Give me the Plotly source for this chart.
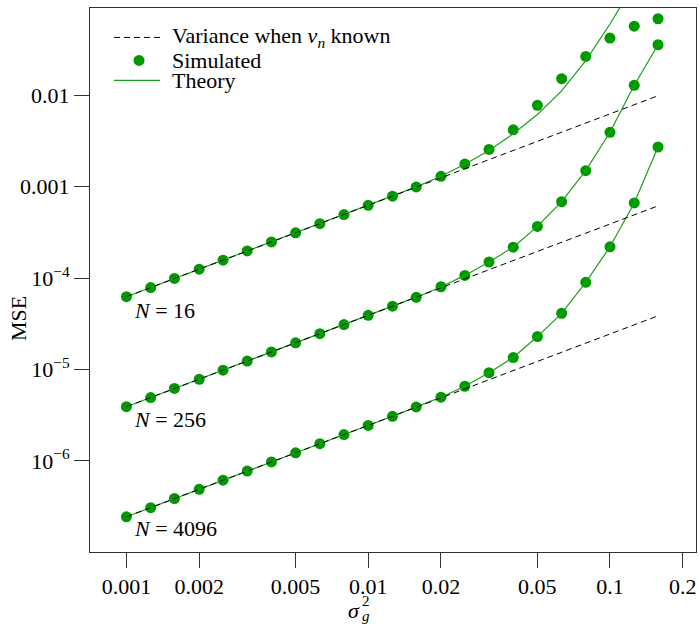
import math
import plotly.graph_objects as go

# grid of sigma_g^2 values
sigma2 = [0.001, 0.00126, 0.00158, 0.002, 0.00251, 0.00316, 0.00398, 0.00501,
          0.00631, 0.00794, 0.01, 0.0126, 0.0158, 0.02, 0.0251, 0.0316, 0.0398,
          0.0501, 0.0631, 0.0794, 0.1, 0.126, 0.158]

# Variance when v_n known (straight lines, endpoints)
var_x = [0.001, 0.158]
var_16 = [6.25e-5, 9.9e-3]
var_256 = [3.91e-6, 6.17e-4]
var_4096 = [2.44e-7, 3.86e-5]

# Simulated MSE
sim_16 = [6.25e-5, 7.87e-5, 9.9e-5, 1.25e-4, 1.57e-4, 1.98e-4, 2.49e-4, 3.13e-4,
          3.94e-4, 4.96e-4, 6.25e-4, 7.87e-4, 9.95e-4, 1.30e-3, 1.77e-3, 2.56e-3,
          4.2e-3, 7.78e-3, 1.52e-2, 2.67e-2, 4.23e-2, 5.71e-2, 6.89e-2]
sim_256 = [3.91e-6, 4.92e-6, 6.19e-6, 7.81e-6, 9.81e-6, 1.235e-5, 1.555e-5, 1.957e-5,
           2.465e-5, 3.10e-5, 3.91e-5, 4.92e-5, 6.15e-5, 8.04e-5, 1.07e-4, 1.50e-4,
           2.18e-4, 3.68e-4, 6.86e-4, 1.50e-3, 3.94e-3, 1.29e-2, 3.58e-2]
sim_4096 = [2.44e-7, 3.07e-7, 3.87e-7, 4.88e-7, 6.13e-7, 7.72e-7, 9.72e-7, 1.223e-6,
            1.54e-6, 1.94e-6, 2.44e-6, 3.07e-6, 3.89e-6, 4.97e-6, 6.55e-6, 9.22e-6,
            1.35e-5, 2.29e-5, 4.11e-5, 8.98e-5, 2.2e-4, 6.64e-4, 2.72e-3]

# Theory curves
th_16 = [6.25e-5, 7.87e-5, 9.9e-5, 1.25e-4, 1.57e-4, 1.98e-4, 2.49e-4, 3.13e-4,
         3.94e-4, 4.96e-4, 6.26e-4, 7.9e-4, 9.97e-4, 1.30e-3, 1.76e-3, 2.49e-3,
         3.8e-3, 6.17e-3, 1.12e-2, 2.4e-2, 6.03e-2, 0.166, 0.5]
th_256 = [3.91e-6, 4.92e-6, 6.19e-6, 7.81e-6, 9.81e-6, 1.235e-5, 1.555e-5, 1.957e-5,
          2.465e-5, 3.10e-5, 3.91e-5, 4.93e-5, 6.18e-5, 8.0e-5, 1.07e-4, 1.50e-4,
          2.18e-4, 3.68e-4, 6.86e-4, 1.50e-3, 3.94e-3, 1.29e-2, 3.58e-2]
th_4096 = [2.44e-7, 3.07e-7, 3.87e-7, 4.88e-7, 6.13e-7, 7.72e-7, 9.72e-7, 1.223e-6,
           1.54e-6, 1.94e-6, 2.44e-6, 3.07e-6, 3.89e-6, 4.97e-6, 6.55e-6, 9.22e-6,
           1.35e-5, 2.29e-5, 4.11e-5, 8.98e-5, 2.2e-4, 6.64e-4, 2.72e-3]

n_labels = ["<i>N</i> = 16", "<i>N</i> = 256", "<i>N</i> = 4096"]
n_label_x = 0.00105
n_label_y = [4.47e-5, 2.81e-6, 1.81e-7]

legend_labels = ["Variance when <i>v</i><sub><i>n</i></sub> known", "Simulated", "Theory"]

x_tickvals = [0.001, 0.002, 0.005, 0.01, 0.02, 0.05, 0.1, 0.2]
x_ticktext = ["0.001", "0.002", "0.005", "0.01", "0.02", "0.05", "0.1", "0.2"]
y_tickvals = [0.01, 0.001, 1e-4, 1e-5, 1e-6]
y_ticktext = ["0.01", "0.001", "10<sup>\u22124</sup>", "10<sup>\u22125</sup>", "10<sup>\u22126</sup>"]

GREEN_PT = "#009a00"
GREEN_LN = "#1aa01a"
FONT = "Liberation Serif"
FS = 22

fig = go.Figure()

for sim in (sim_16, sim_256, sim_4096):
    fig.add_trace(go.Scatter(x=sigma2, y=sim, mode="markers", showlegend=False,
                             marker=dict(color=GREEN_PT, size=11)))
for th in (th_16, th_256, th_4096):
    fig.add_trace(go.Scatter(x=sigma2, y=th, mode="lines", showlegend=False,
                             line=dict(color=GREEN_LN, width=1.2)))
for v in (var_16, var_256, var_4096):
    fig.add_trace(go.Scatter(x=var_x, y=v, mode="lines", showlegend=False,
                             line=dict(color="black", width=1, dash="6px,4px")))

for lab, yy in zip(n_labels, n_label_y):
    fig.add_annotation(x=math.log10(n_label_x), y=math.log10(yy), xref="x", yref="y",
                       text=lab, showarrow=False, xanchor="left", yanchor="middle",
                       font=dict(family=FONT, size=FS, color="black"))

# --- manual legend (paper coords) ---
L0, L1 = 0.0396, 0.1155
row_y = [0.9459, 0.8967, 0.867]
row_y = [0.9459, 0.9036, 0.867]
fig.add_shape(type="line", xref="paper", yref="paper", x0=L0, x1=L1, y0=row_y[0], y1=row_y[0],
              line=dict(color="black", width=1, dash="6px,4px"))
fig.add_shape(type="circle", xref="paper", yref="paper", xsizemode="pixel", ysizemode="pixel",
              xanchor=0.0809, yanchor=row_y[1], x0=-5.5, x1=5.5, y0=-5.5, y1=5.5,
              fillcolor=GREEN_PT, line=dict(color=GREEN_PT, width=0))
fig.add_shape(type="line", xref="paper", yref="paper", x0=L0, x1=L1, y0=row_y[2], y1=row_y[2],
              line=dict(color=GREEN_LN, width=1.2))
for lab, ry in zip(legend_labels, row_y):
    fig.add_annotation(x=0.132, y=ry, xref="paper", yref="paper", text=lab, showarrow=False,
                       xanchor="left", yanchor="middle",
                       font=dict(family=FONT, size=FS, color="black"))

# axis titles
fig.add_annotation(x=-0.119, y=0.43, xref="paper", yref="paper", text="MSE",
                   showarrow=False, textangle=-90, xanchor="center", yanchor="middle",
                   font=dict(family=FONT, size=FS, color="black"))
fig.add_annotation(x=0.4356, y=-0.1077, xref="paper", yref="paper", text="<i>\u03c3</i>",
                   showarrow=False, xanchor="center", yanchor="middle",
                   font=dict(family=FONT, size=FS, color="black"))
fig.add_annotation(x=0.4554, y=-0.1169, xref="paper", yref="paper", text="<i>g</i>",
                   showarrow=False, xanchor="center", yanchor="middle",
                   font=dict(family=FONT, size=15, color="black"))
fig.add_annotation(x=0.4554, y=-0.0894, xref="paper", yref="paper", text="2",
                   showarrow=False, xanchor="center", yanchor="middle",
                   font=dict(family=FONT, size=15, color="black"))

axis_common = dict(showgrid=False, zeroline=False, showline=True, mirror=True,
                   linecolor="#333333", linewidth=1, ticks="outside", ticklen=15,
                   tickcolor="#333333", tickwidth=1, automargin=False,
                   tickfont=dict(family=FONT, size=FS, color="black"))

fig.update_layout(
    width=699, height=624,
    margin=dict(l=90, r=3, t=8, b=72),
    paper_bgcolor="white", plot_bgcolor="white",
    font=dict(family=FONT, size=FS, color="black"),
    xaxis=dict(type="log", range=[-3.1506, -0.6442], tickvals=x_tickvals,
               ticktext=x_ticktext, **axis_common),
    yaxis=dict(type="log", range=[-6.998, -1.044], tickvals=y_tickvals,
               ticktext=y_ticktext, **axis_common),
    showlegend=False,
)

fig.write_html("out.html", config={"displayModeBar": False},
               post_script="document.body.style.margin='0';document.body.style.overflow='hidden';")
